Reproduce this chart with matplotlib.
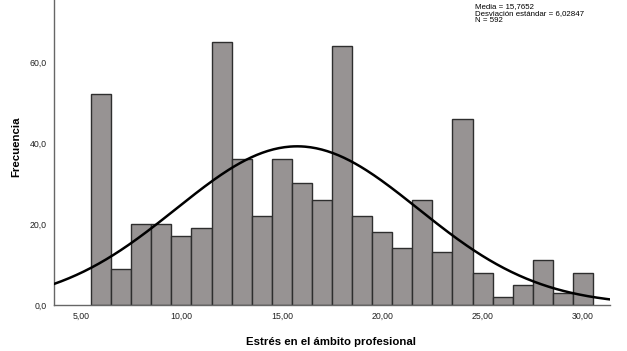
import numpy as np
import matplotlib
matplotlib.use("Agg")
import matplotlib.pyplot as plt

# Datos del histograma (puntuaciones de estrés, frecuencias)
puntuaciones = [6, 7, 8, 9, 10, 11, 12, 13, 14, 15, 16, 17, 18,
                19, 20, 21, 22, 23, 24, 25, 26, 27, 28, 29, 30]
frecuencias = [52, 9, 20, 20, 17, 19, 65, 36, 22, 36, 30, 26, 64,
               22, 18, 14, 26, 13, 46, 8, 2, 5, 11, 3, 8]
media = 15.7652
desviacion = 6.02847
n_total = 592
ticks_x = [5, 10, 15, 20, 25, 30]
ticks_y = [0, 20, 40, 60]

plt.rcParams['font.family'] = ['Liberation Sans', 'DejaVu Sans']

fig = plt.figure(figsize=(6.27, 3.51), dpi=100)
ax = fig.add_axes([0.0861, 0.131, 0.8868, 0.869])

ax.bar(puntuaciones, frecuencias, width=1.0, color='#979393',
       edgecolor='#2e2e2e', linewidth=1.0, zorder=2)

# Curva normal escalada a N y ancho de intervalo 1
xmin, xmax = 3.65, 31.35
xs = np.linspace(xmin, xmax, 300)
ys = n_total / (desviacion * np.sqrt(2 * np.pi)) * np.exp(-0.5 * ((xs - media) / desviacion) ** 2)
ax.plot(xs, ys, color='black', linewidth=1.8, zorder=3)

ax.set_xlim(xmin, xmax)
ax.set_ylim(0, 75.3)
ax.set_xticks(ticks_x)
ax.set_xticklabels([f"{v:.2f}".replace('.', ',') for v in ticks_x])
ax.set_yticks(ticks_y)
ax.set_yticklabels([f"{v:.1f}".replace('.', ',') for v in ticks_y])
ax.tick_params(length=0, labelsize=6.3, colors='#222222', pad=5)

for s in ['top', 'right']:
    ax.spines[s].set_visible(False)
for s in ['left', 'bottom']:
    ax.spines[s].set_color('#666666')
    ax.spines[s].set_linewidth(1.0)

ax.set_xlabel('Estrés en el ámbito profesional', fontsize=8.2, fontweight='bold')
ax.xaxis.set_label_coords(0.498, -0.105)
ax.set_ylabel('Frecuencia', fontsize=8.2, fontweight='bold')
ax.yaxis.set_label_coords(-0.058, 0.52)

fig.text(475 / 627, 1 - 3 / 351,
         f"Media = {str(media).replace('.', ',')}\n"
         f"Desviación estándar = {str(desviacion).replace('.', ',')}\n"
         f"N = {n_total}",
         fontsize=5.7, va='top', ha='left', linespacing=1.0)

fig.savefig('out.png', dpi=100)
